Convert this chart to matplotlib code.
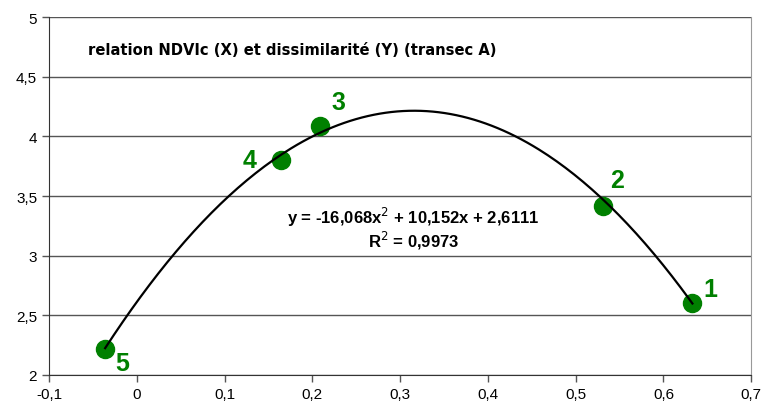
import numpy as np
import matplotlib
matplotlib.use("Agg")
import matplotlib.pyplot as plt
from matplotlib.ticker import FuncFormatter

plt.rcParams['font.family'] = ['Liberation Sans', 'DejaVu Sans']

# points (NDVIc, dissimilarite) and their labels
ndvi = [0.633, 0.531, 0.209, 0.164, -0.036]
dissim = [2.60, 3.42, 4.09, 3.80, 2.22]
labels = ['1', '2', '3', '4', '5']
label_off = [(0.012, 0.12), (0.008, 0.21), (0.013, 0.20), (-0.028, 0.0), (0.012, -0.12)]

# polynomial trend from the chart
coef = [-16.068, 10.152, 2.6111]
r2 = 0.9973

fig = plt.figure(figsize=(7.65, 4.1), dpi=100)
ax = fig.add_axes([0.064, 0.083, 0.918, 0.873])

ax.set_xlim(-0.1, 0.7)
ax.set_ylim(2, 5)
ax.set_xticks(np.arange(-0.1, 0.71, 0.1))
ax.set_yticks(np.arange(2, 5.01, 0.5))
fmt = FuncFormatter(lambda v, p: ('%g' % round(v, 2)).replace('.', ','))
ax.xaxis.set_major_formatter(fmt)
ax.yaxis.set_major_formatter(fmt)
ax.tick_params(labelsize=11, length=5, width=1, color='#555555', direction='out')
ax.yaxis.grid(True, color='#555555', lw=1)
ax.set_axisbelow(True)
ax.spines['top'].set_visible(False)
ax.spines['right'].set_color('#999999')
ax.spines['left'].set_color('#333333')
ax.spines['bottom'].set_color('#333333')

# markers first, trend line drawn over them
ax.plot(ndvi, dissim, 'o', color='#008000', ms=13, zorder=3, clip_on=False)
xs = np.linspace(min(ndvi), max(ndvi), 200)
ax.plot(xs, np.polyval(coef, xs), color='black', lw=1.6, zorder=4)

for x, y, t, (dx, dy) in zip(ndvi, dissim, labels, label_off):
    ax.text(x + dx, y + dy, t, color='#008000', fontsize=18, fontweight='bold',
            ha='left' if dx > 0 else 'right', va='center')

ax.text(0.055, 0.91, 'relation NDVIc (X) et dissimilarité (Y) (transec A)',
        transform=ax.transAxes, fontsize=10.6, fontweight='bold', va='center',
        family=['DejaVu Sans'])
eq = 'y = -16,068x$^2$ + 10,152x + 2,6111'
ax.text(0.315, 3.33, eq, fontsize=12, fontweight='bold', ha='center', va='center')
ax.text(0.315, 3.13, 'R$^2$ = ' + ('%.4f' % r2).replace('.', ','), fontsize=12,
        fontweight='bold', ha='center', va='center')

fig.savefig('out.png', dpi=100)
